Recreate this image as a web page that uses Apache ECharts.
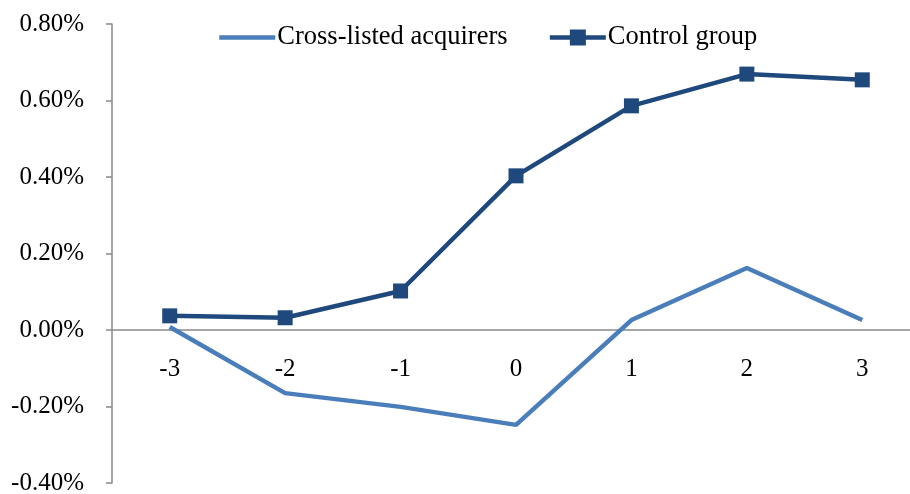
<!DOCTYPE html>
<html>
<head>
<meta charset="utf-8">
<script src="https://cdn.jsdelivr.net/npm/echarts@6/dist/echarts.min.js"></script>
<style>
  html, body { margin: 0; padding: 0; background: #fff; }
  #chart { width: 910px; height: 494px; }
</style>
</head>
<body>
<div id="chart"></div>
<script>
// Event-window days around the announcement
const days = ['-3', '-2', '-1', '0', '1', '2', '3'];
// Mean abnormal returns, in percent
const crossListed = [0.008, -0.165, -0.201, -0.248, 0.026, 0.162, 0.026];
const controlGroup = [0.037, 0.032, 0.102, 0.403, 0.586, 0.669, 0.654];
const seriesNames = ['Cross-listed acquirers', 'Control group'];
const yMin = -0.4, yMax = 0.8, yStep = 0.2;

const FONT = '"Liberation Serif", "Times New Roman", serif';
const LIGHT = '#4a7ebb', DARK = '#1f497d', AXIS = '#898989';

const gridTop = 24, gridBottom = 11, chartH = 494;
// keep the category axis on the zero line: shift it up from the grid bottom
const plotH = chartH - gridTop - gridBottom;
const zeroShift = plotH * (0 - yMin) / (yMax - yMin);

const chart = echarts.init(document.getElementById('chart'));
chart.setOption({
  animation: false,
  backgroundColor: '#ffffff',
  textStyle: { fontFamily: FONT },
  legend: {
    left: 217,
    top: 24,
    padding: 0,
    itemGap: 40,
    itemWidth: 56,
    itemHeight: 20,
    textStyle: { fontFamily: FONT, fontSize: 26.5, color: '#000', padding: [0, 0, 0, -3] },
    data: [
      {
        name: seriesNames[0],
        itemStyle: { color: 'rgba(0,0,0,0)', borderColor: 'rgba(0,0,0,0)', borderWidth: 0 },
        lineStyle: { color: LIGHT, width: 4.5 }
      },
      {
        name: seriesNames[1],
        lineStyle: { color: DARK, width: 4.5 }
      }
    ]
  },
  grid: {
    left: 112, right: -10, top: gridTop, bottom: gridBottom,
    containLabel: false, outerBoundsMode: 'none'
  },
  xAxis: {
    type: 'category',
    data: days,
    boundaryGap: true,
    offset: -zeroShift,
    axisLine: { onZero: false, lineStyle: { color: AXIS, width: 1.5 } },
    axisTick: { show: false },
    axisLabel: { color: '#000', fontFamily: FONT, fontSize: 25, margin: 27 },
    splitLine: { show: false }
  },
  yAxis: {
    type: 'value',
    min: yMin,
    max: yMax,
    interval: yStep,
    axisLine: { show: true, lineStyle: { color: AXIS, width: 1.5 } },
    axisTick: { show: true, length: 6, lineStyle: { color: AXIS, width: 1.5 } },
    axisLabel: {
      color: '#000', fontFamily: FONT, fontSize: 25, margin: 28,
      formatter: v => v.toFixed(2) + '%'
    },
    splitLine: { show: false }
  },
  series: [
    {
      name: seriesNames[0],
      type: 'line',
      data: crossListed,
      symbol: 'none',
      color: LIGHT,
      lineStyle: { color: LIGHT, width: 4.5 }
    },
    {
      name: seriesNames[1],
      type: 'line',
      data: controlGroup,
      symbol: 'rect',
      symbolSize: 15,
      color: DARK,
      itemStyle: { color: DARK },
      lineStyle: { color: DARK, width: 4.5 }
    }
  ]
});
</script>
</body>
</html>
